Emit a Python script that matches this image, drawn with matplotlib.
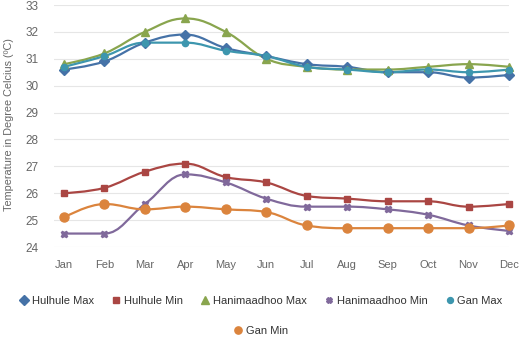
import numpy as np
import matplotlib

matplotlib.use("Agg")
import matplotlib.pyplot as plt
from matplotlib.path import Path
from matplotlib.patches import PathPatch
from matplotlib.lines import Line2D

plt.rcParams["font.family"] = ["Liberation Sans", "DejaVu Sans"]

months = ["Jan", "Feb", "Mar", "Apr", "May", "Jun", "Jul", "Aug", "Sep", "Oct", "Nov", "Dec"]
hulhule_max = [30.6, 30.9, 31.6, 31.9, 31.4, 31.1, 30.8, 30.7, 30.5, 30.5, 30.3, 30.4]
hulhule_min = [26.0, 26.2, 26.8, 27.1, 26.6, 26.4, 25.9, 25.8, 25.7, 25.7, 25.5, 25.6]
hanimaadhoo_max = [30.8, 31.2, 32.0, 32.5, 32.0, 31.0, 30.7, 30.6, 30.6, 30.7, 30.8, 30.7]
hanimaadhoo_min = [24.5, 24.5, 25.6, 26.7, 26.4, 25.8, 25.5, 25.5, 25.4, 25.2, 24.8, 24.6]
gan_max = [30.7, 31.1, 31.6, 31.6, 31.3, 31.1, 30.7, 30.6, 30.5, 30.6, 30.5, 30.6]
gan_min = [25.1, 25.6, 25.4, 25.5, 25.4, 25.3, 24.8, 24.7, 24.7, 24.7, 24.7, 24.8]

series = [
    ("Hulhule Max", hulhule_max, "#4572A7", "D", 5),
    ("Hulhule Min", hulhule_min, "#AA4643", "s", 5),
    ("Hanimaadhoo Max", hanimaadhoo_max, "#89A54E", "^", 6),
    ("Hanimaadhoo Min", hanimaadhoo_min, "#80699B", "X", 4.5),
    ("Gan Max", gan_max, "#3D96AE", "o", 4.5),
    ("Gan Min", gan_min, "#DB843D", "o", 6.5),
]


def spline_path(xs, ys, smoothing=1.5):
    # Bezier control points, Highcharts-style spline
    n = len(xs)
    denom = smoothing + 1
    verts = [(xs[0], ys[0])]
    codes = [Path.MOVETO]
    left = [None] * n
    right = [None] * n
    for i in range(1, n - 1):
        lx = (smoothing * xs[i] + xs[i - 1]) / denom
        ly = (smoothing * ys[i] + ys[i - 1]) / denom
        rx = (smoothing * xs[i] + xs[i + 1]) / denom
        ry = (smoothing * ys[i] + ys[i + 1]) / denom
        corr = (ry - ly) * (rx - xs[i]) / (rx - lx) + ys[i] - ry
        ly += corr
        ry += corr
        if ly > ys[i - 1] and ly > ys[i]:
            ly = max(ys[i - 1], ys[i]); ry = 2 * ys[i] - ly
        elif ly < ys[i - 1] and ly < ys[i]:
            ly = min(ys[i - 1], ys[i]); ry = 2 * ys[i] - ly
        if ry > ys[i + 1] and ry > ys[i]:
            ry = max(ys[i + 1], ys[i]); ly = 2 * ys[i] - ry
        elif ry < ys[i + 1] and ry < ys[i]:
            ry = min(ys[i + 1], ys[i]); ly = 2 * ys[i] - ry
        left[i] = (lx, ly)
        right[i] = (rx, ry)
    for i in range(1, n):
        c1 = right[i - 1] if right[i - 1] else (xs[i - 1], ys[i - 1])
        c2 = left[i] if left[i] else (xs[i], ys[i])
        verts += [c1, c2, (xs[i], ys[i])]
        codes += [Path.CURVE4] * 3
    return Path(verts, codes)


fig = plt.figure(figsize=(5.22, 3.48), dpi=100)
ax = fig.add_axes([54 / 522, 1 - 247 / 348, 455 / 522, 242 / 348])
x = np.arange(len(months))

for name, vals, col, mk, ms in series:
    ax.add_patch(PathPatch(spline_path(x, vals), fill=False, edgecolor=col, lw=1.6, zorder=3))
    ax.plot(x, vals, ls="none", marker=mk, color=col, ms=ms, mec=col, zorder=4, clip_on=False)

ax.set_xlim(-0.247, 11)
ax.set_ylim(24, 33)
ax.set_yticks(range(24, 34))
ax.set_xticks(x)
ax.set_xticklabels(months)
ax.grid(axis="y", color="#e6e6e6", lw=0.8)
ax.set_axisbelow(True)
for s in ax.spines.values():
    s.set_visible(False)
ax.tick_params(length=0, colors="#666666", labelsize=8)
ax.tick_params(axis="x", pad=9)
ax.tick_params(axis="y", pad=11, labelsize=8.5)
fig.text(9 / 522, 1 - 125 / 348, "Temperature in Degree Celcius (ºC)", rotation=90,
         color="#666666", fontsize=7.8, ha="center", va="center")

handles = [Line2D([], [], ls="none", marker=mk, color=col, ms=min(ms, 5.5) * 0.95)
           for name, vals, col, mk, ms in series]
names = [s[0] for s in series]
fig.legend(handles[:5], names[:5], loc="center", bbox_to_anchor=(0.5, 1 - 301 / 348), ncol=5,
           frameon=False, fontsize=8, handlelength=0.8, handletextpad=0.3, columnspacing=1.6,
           labelcolor="#333333")
fig.legend(handles[5:], names[5:], loc="center", bbox_to_anchor=(0.5, 1 - 331 / 348), ncol=1,
           frameon=False, fontsize=8, handlelength=0.8, handletextpad=0.3, labelcolor="#333333")

fig.savefig("out.png", dpi=100)
